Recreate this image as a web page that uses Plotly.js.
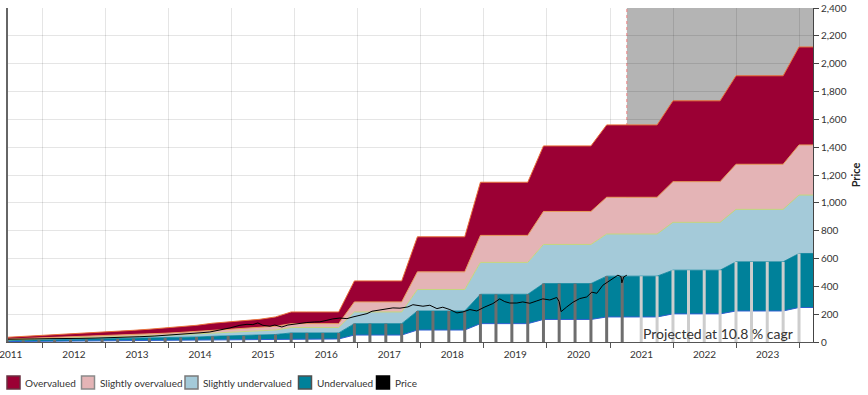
<!DOCTYPE html>
<html><head><meta charset="utf-8">
<script src="https://cdn.plot.ly/plotly-3.0.1.min.js"></script>
<style>html,body{margin:0;padding:0;background:#fff}#chart{width:868px;height:395px}</style>
</head><body><div id="chart"></div>
<script>
// Quarterly valuation band dates
const quarters = [
 "2011-06-12","2011-09-12","2011-12-12",
 "2012-03-12","2012-06-12","2012-09-12","2012-12-12",
 "2013-03-12","2013-06-12","2013-09-12","2013-12-12",
 "2014-03-12","2014-06-12","2014-09-12","2014-12-12",
 "2015-03-12","2015-06-12","2015-09-12","2015-12-12",
 "2016-03-12","2016-06-12","2016-09-12","2016-12-12",
 "2017-03-12","2017-06-12","2017-09-12","2017-12-12",
 "2018-03-12","2018-06-12","2018-09-12","2018-12-12",
 "2019-03-12","2019-06-12","2019-09-12","2019-12-12",
 "2020-03-12","2020-06-12","2020-09-12","2020-12-12",
 "2021-03-12","2021-06-30","2021-09-30","2021-12-31",
 "2022-03-31","2022-06-30","2022-09-30","2022-12-31",
 "2023-03-31","2023-06-30","2023-09-30","2023-12-31",
 "2024-03-31"
];
// Band boundaries
const lowerBound = [3,4,5,5,6,6,7,8,8,9,10,11,12,13,14,15,16,18,
 22,22,22,22, 50,50,50,50, 86,86,86,86, 132,132,132,132, 162,162,162,162,
 180,180,180,180, 202,202,202,202, 223,223,223,223, 248,248];
const undervaluedTop = [10,12,14,15,17,19,21,23,25,28,30,33,36,41,43,45,49,54,
 65,65,65,65, 132,132,132,132, 223,223,223,223, 343,343,343,343, 420,420,420,420,
 473,473,473,473, 516,516,516,516, 576,576,576,576, 636,636];
const slightlyUnderTop = [16,19,22,24,26,30,34,36,40,44,48,53,58,65,69,72,78,86,
 104,104,104,104, 216,216,216,216, 377,377,377,377, 572,572,572,572, 701,701,701,701,
 776,776,776,776, 860,860,860,860, 953,953,953,953, 1056,1056];
const slightlyOverTop = [21,25,28,32,35,39,44,48,53,58,63,69,76,85,90,95,103,113,
 132,132,132,132, 288,288,288,288, 504,504,504,504, 766,766,766,766, 938,938,938,938,
 1040,1040,1040,1040, 1152,1152,1152,1152, 1277,1277,1277,1277, 1416,1416];
const overvaluedTop = [34,40,45,50,55,62,70,76,84,92,100,110,120,135,143,151,163,180,
 216,216,216,216, 439,439,439,439, 756,756,756,756, 1148,1148,1148,1148, 1409,1409,1409,1409,
 1560,1560,1560,1560, 1733,1733,1733,1733, 1913,1913,1913,1913, 2120,2120];

// Price series
const priceDates = [
 "2011-06-16","2011-08-24","2011-11-19","2012-02-14","2012-05-11","2012-08-06","2012-11-01",
 "2013-01-27","2013-04-24","2013-07-19","2013-10-14","2013-12-23","2014-03-25","2014-07-02",
 "2014-08-28","2014-10-25","2014-12-22","2015-02-18","2015-03-31","2015-05-04","2015-06-02",
 "2015-07-01","2015-08-11","2015-09-08","2015-10-19","2015-11-23","2016-01-14","2016-03-12",
 "2016-04-27","2016-05-26","2016-07-06","2016-08-09","2016-09-19","2016-10-30","2016-12-04",
 "2017-01-13","2017-02-23","2017-03-24","2017-04-28","2017-06-18","2017-07-23","2017-09-02",
 "2017-10-18","2017-11-16","2017-12-26","2018-01-13","2018-02-22","2018-04-04","2018-05-08",
 "2018-06-18","2018-07-29","2018-09-01","2018-10-12","2018-11-21","2019-01-07","2019-02-22",
 "2019-04-03","2019-05-02","2019-05-31","2019-07-11","2019-08-14","2019-09-24","2019-11-03",
 "2019-12-08","2020-01-18","2020-02-27","2020-03-12","2020-03-23","2020-04-25","2020-05-30",
 "2020-07-09","2020-08-19","2020-09-17","2020-10-16","2020-11-20","2021-01-01","2021-01-29",
 "2021-02-15","2021-03-05","2021-03-10","2021-03-21","2021-04-08"
];
const priceValues = [
 20,19,22,24,23,26,28,
 30,34,38,43,48,58,66,
 72,84,101,120,127,125,137,
 120,113,122,108,122,132,140,
 144,145,156,166,172,168,180,
 192,204,221,228,233,245,243,
 252,268,257,257,264,240,250,
 233,209,216,233,223,252,276,
 310,290,280,280,288,278,295,
 310,302,320,290,218,252,285,
 312,324,358,350,408,444,468,
 480,470,425,468,480
];

const legendNames = ["Overvalued","Slightly overvalued","Slightly undervalued","Undervalued","Price"];
const projectionStart = priceDates[priceDates.length-1];
const xRange = ["2011-06-16","2024-03-21"];

const colOver = "#9b0034", colSlOver = "#e4b4b6", colSlUnder = "#a4cad9", colUnder = "#00819a";
const legendFill = [colOver, colSlOver, colSlUnder, colUnder, "#000000"];
const legendBorder = ["#6a3040", "#8a8a8a", "#7a7a7a", "#505050", "#000000"];

// layout geometry (pixels)
const W = 868, H = 395, M = {l:8, r:55, t:8, b:53};
const plotW = W - M.l - M.r, plotH = H - M.t - M.b;
const pxX = p => (p - M.l) / plotW;
const pxY = p => (H - M.b - p) / plotH;
const legendSwatchLeft = [7, 81.5, 185, 298.5, 376.5];
const legendTop = 376, legendSize = 13;

const barColors = quarters.map(d => d <= projectionStart ? "#6e6e6e" : "#cdcdcd");

const traces = [
 {x: quarters, y: lowerBound, type:"scatter", mode:"lines", fill:"tozeroy", fillcolor:"#ffffff",
  line:{color:"#2f5fd0", width:1}, showlegend:false, hoverinfo:"skip", name:"Lower bound"},
 {x: quarters, y: undervaluedTop, type:"scatter", mode:"lines", fill:"tonexty", fillcolor:colUnder,
  line:{color:colUnder, width:0.8}, showlegend:false, name:legendNames[3]},
 {x: quarters, y: slightlyUnderTop, type:"scatter", mode:"lines", fill:"tonexty", fillcolor:colSlUnder,
  line:{color:"#c4d67c", width:1}, showlegend:false, name:legendNames[2]},
 {x: quarters, y: slightlyOverTop, type:"scatter", mode:"lines", fill:"tonexty", fillcolor:colSlOver,
  line:{color:"#e89c5c", width:1}, showlegend:false, name:legendNames[1]},
 {x: quarters, y: overvaluedTop, type:"scatter", mode:"lines", fill:"tonexty", fillcolor:colOver,
  line:{color:"#e8703a", width:1}, showlegend:false, name:legendNames[0]},
 // quarterly bars (overlay subplot so they sit above the bands)
 {x: quarters, y: undervaluedTop, type:"bar", xaxis:"x2", yaxis:"y2", width:1.5e9,
  marker:{color: barColors, line:{width:0}}, showlegend:false, hoverinfo:"skip"},
 {x: priceDates, y: priceValues, type:"scatter", mode:"lines", xaxis:"x2", yaxis:"y2",
  line:{color:"#000000", width:1}, showlegend:false, name:legendNames[4]}
];

const gridCol = "rgba(0,0,0,0.1)";
const shapes = [
 {type:"rect", xref:"x", yref:"paper", x0:projectionStart, x1:xRange[1], y0:0, y1:1,
  fillcolor:"#b4b4b4", line:{width:0}, layer:"below"},
 {type:"line", xref:"x", yref:"paper", x0:projectionStart, x1:projectionStart, y0:0, y1:1,
  line:{color:"#f08080", width:1, dash:"dot"}, layer:"below"}
];
const annotations = [
 {text:"Projected at 10.8 % cagr", xref:"paper", yref:"paper", x:pxX(795), y:pxY(333),
  xanchor:"right", yanchor:"middle", showarrow:false, font:{size:14, color:"#333"}}
];
// legend: swatch + label for each series
legendNames.forEach((name, i) => {
 const left = legendSwatchLeft[i];
 shapes.push({type:"rect", xref:"paper", yref:"paper",
  x0:pxX(left), x1:pxX(left + legendSize), y0:pxY(legendTop + legendSize), y1:pxY(legendTop),
  fillcolor:legendFill[i], line:{color:legendBorder[i], width:1.5}});
 annotations.push({text:name, xref:"paper", yref:"paper", x:pxX(left + legendSize + 3),
  y:pxY(legendTop + legendSize/2), xanchor:"left", yanchor:"middle", showarrow:false,
  font:{size:10, color:"#333"}});
});

const layout = {
 width:W, height:H,
 margin:M,
 paper_bgcolor:"#ffffff", plot_bgcolor:"#ffffff",
 font:{family:"Lato, 'Open Sans', sans-serif", size:10, color:"#333"},
 barmode:"overlay",
 showlegend:false,
 // grid lines and tick marks at each year start
 xaxis:{type:"date", range:xRange, tick0:"2012-01-01", dtick:"M12",
  showticklabels:false, showgrid:true, gridcolor:gridCol, gridwidth:1,
  showline:true, linecolor:"#555", linewidth:1, ticks:"outside", ticklen:5, tickcolor:"#555",
  zeroline:false},
 yaxis:{range:[0,2400], side:"right", dtick:200, tickformat:",d", showgrid:true,
  gridcolor:gridCol, showline:true, linecolor:"#444", linewidth:1,
  ticks:"outside", ticklen:5, tickcolor:"#444", zeroline:false, tickfont:{size:10, color:"#333"},
  title:{text:"Price", font:{size:11, weight:"bold", color:"#222"}}},
 // year labels centred in each year
 xaxis2:{type:"date", overlaying:"x", anchor:"y2", side:"bottom", range:xRange,
  tick0:"2011-07-02", dtick:"M12", tickformat:"%Y", showgrid:false, showline:false,
  ticks:"outside", ticklen:3, tickcolor:"rgba(0,0,0,0)", zeroline:false,
  ticklabeloverflow:"allow", tickfont:{size:10, color:"#333"}},
 yaxis2:{overlaying:"y", anchor:"x2", range:[0,2400], side:"left", showline:true, linecolor:"#666", linewidth:2,
  showticklabels:false, showgrid:false, zeroline:false, ticks:""},
 shapes: shapes,
 annotations: annotations
};

Plotly.newPlot("chart", traces, layout, {displayModeBar:false, staticPlot:true});
</script>
</body></html>
